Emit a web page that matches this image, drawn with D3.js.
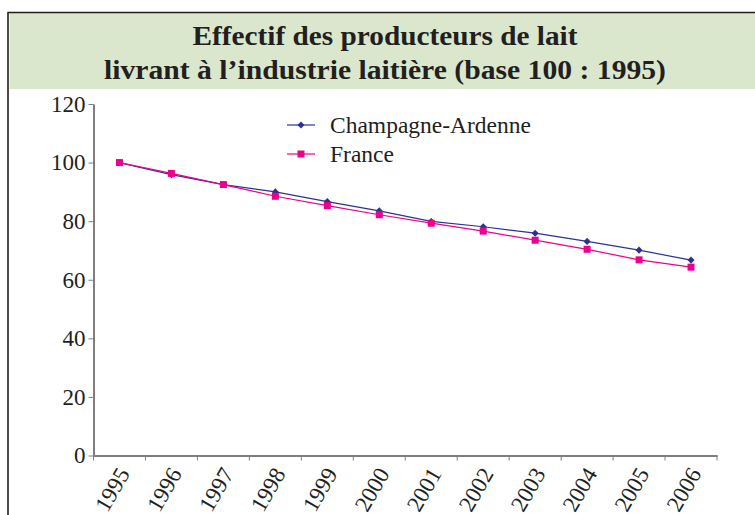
<!DOCTYPE html>
<html>
<head>
<meta charset="utf-8">
<script src="https://cdn.jsdelivr.net/npm/d3@7"></script>
<style>
    body { margin: 0; background: #fff; }
    text { font-family: "Liberation Serif", "Times New Roman", serif; fill: #231f20; }
    .axis path, .axis line { stroke: #7f7f7f; }
</style>
</head>
<body>
<div id="chart"></div>
<script>
// Chart size
let width = 755;
let height = 515;

// The dataset
let years = ["1995", "1996", "1997", "1998", "1999", "2000", "2001", "2002", "2003", "2004", "2005", "2006"];
let champagne = [100, 95.9, 92.5, 90.0, 86.7, 83.5, 79.9, 78.1, 75.9, 73.1, 70.1, 66.7];
let france = [100, 96.3, 92.5, 88.5, 85.3, 82.2, 79.3, 76.6, 73.5, 70.4, 66.8, 64.3];
let yTicks = [0, 20, 40, 60, 80, 100, 120];
let titleLines = ["Effectif des producteurs de lait", "livrant à l\u2019industrie laitière (base 100 : 1995)"];
let seriesNames = ["Champagne-Ardenne", "France"];

let blue = "#2e3192";
let pink = "#ec008c";
let serif = "'Liberation Serif', 'Times New Roman', serif";

let svg = d3.select("#chart")
    .append("svg")
    .attr("width", width)
    .attr("height", height);

// Frame and title band
svg.append("rect")
    .attr("x", 9.5)
    .attr("y", 13)
    .attr("width", width)
    .attr("height", 76)
    .attr("fill", "#dbe7cd");

svg.append("path")
    .attr("d", "M8,520 V12.5 H760")
    .attr("fill", "none")
    .attr("stroke", "#231f20")
    .attr("stroke-width", 1.6);

let titleWidths = [385, 562];
svg.selectAll(".title")
    .data(titleLines)
    .enter()
    .append("text")
    .attr("class", "title")
    .attr("x", 385)
    .attr("y", function (d, i) { return 45 + i * 33.5; })
    .attr("text-anchor", "middle")
    .attr("font-size", 28)
    .attr("font-weight", "bold")
    .attr("textLength", function (d, i) { return titleWidths[i]; })
    .attr("lengthAdjust", "spacingAndGlyphs")
    .text(function (d) { return d; });

// Scales
let xScale = d3.scaleBand()
    .domain(years)
    .range([93.5, 717]);

let yScale = d3.scaleLinear()
    .domain([0, 120])
    .range([455.5, 104]);

// Axes
let yAxis = d3.axisLeft(yScale)
    .tickValues(yTicks)
    .tickSize(5)
    .tickSizeOuter(0)
    .tickPadding(3);

let gy = svg.append("g")
    .attr("class", "axis")
    .attr("transform", "translate(93.5, 0)")
    .call(yAxis)
    .attr("font-family", serif)
    .attr("font-size", 23);
gy.select(".domain").attr("stroke-width", 2);
gy.selectAll(".tick text").attr("fill", "#231f20");

let bw = xScale.bandwidth();
let xAxis = d3.axisBottom(xScale)
    .tickSize(5)
    .tickSizeOuter(0);

let gx = svg.append("g")
    .attr("class", "axis")
    .attr("transform", "translate(0, 455.5)")
    .call(xAxis)
    .attr("font-family", serif)
    .attr("font-size", 23);
gx.select(".domain").attr("stroke-width", 2);

// ticks sit on the category boundaries
gx.selectAll(".tick line")
    .attr("x1", -bw / 2)
    .attr("x2", -bw / 2);
gx.append("line")
    .attr("x1", xScale.range()[1])
    .attr("x2", xScale.range()[1])
    .attr("y1", 0)
    .attr("y2", 5)
    .attr("stroke", "#7f7f7f");

gx.selectAll(".tick text")
    .attr("fill", "#231f20")
    .attr("text-anchor", "end")
    .attr("x", 0)
    .attr("y", 0)
    .attr("dy", "0.35em")
    .attr("transform", "translate(4, 14) rotate(-60)");

// Lines
let cx = function (d, i) { return xScale(years[i]) + bw / 2; };
let line = d3.line()
    .x(cx)
    .y(function (d) { return yScale(d); });

svg.append("path")
    .datum(champagne)
    .attr("fill", "none")
    .attr("stroke", blue)
    .attr("stroke-width", 1.2)
    .attr("d", line);

svg.append("path")
    .datum(france)
    .attr("fill", "none")
    .attr("stroke", pink)
    .attr("stroke-width", 1.2)
    .attr("d", line);

// Markers
let diamond = d3.symbol().type(d3.symbolDiamond2).size(32);

svg.selectAll(".pt-ca")
    .data(champagne)
    .enter()
    .append("path")
    .attr("class", "pt-ca")
    .attr("d", diamond)
    .attr("fill", blue)
    .attr("transform", function (d, i) { return "translate(" + cx(d, i) + "," + yScale(d) + ")"; });

svg.selectAll(".pt-fr")
    .data(france)
    .enter()
    .append("rect")
    .attr("class", "pt-fr")
    .attr("x", function (d, i) { return cx(d, i) - 3.5; })
    .attr("y", function (d) { return yScale(d) - 3.5; })
    .attr("width", 7)
    .attr("height", 7)
    .attr("fill", pink);

// Legend
let legend = svg.selectAll(".legend")
    .data(seriesNames)
    .enter()
    .append("g")
    .attr("class", "legend")
    .attr("transform", function (d, i) { return "translate(287, " + (125 + i * 29) + ")"; });

legend.append("line")
    .attr("x1", 0)
    .attr("x2", 28)
    .attr("stroke", function (d, i) { return i === 0 ? blue : pink; })
    .attr("stroke-width", 1.2);

legend.append("path")
    .attr("d", function (d, i) { return i === 0 ? diamond() : "M-3.5,-3.5h7v7h-7z"; })
    .attr("transform", "translate(14, 0)")
    .attr("fill", function (d, i) { return i === 0 ? blue : pink; });

legend.append("text")
    .attr("x", 43)
    .attr("dy", "0.35em")
    .attr("font-size", 23.5)
    .text(function (d) { return d; });
</script>
</body>
</html>
